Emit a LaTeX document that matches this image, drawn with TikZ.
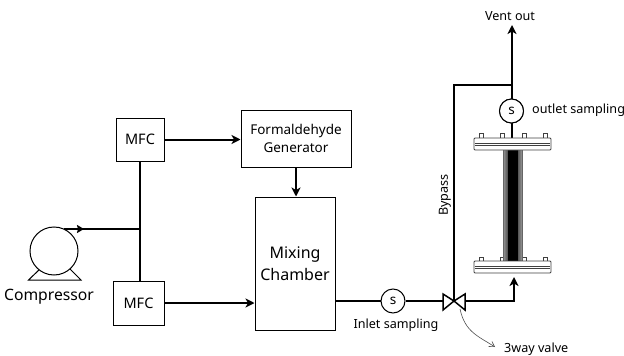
\documentclass[tikz,border=0pt]{standalone}
\usepackage{fontspec}
\setmainfont{Noto Sans}
\usetikzlibrary{arrows.meta,shapes.misc,calc}
\tikzset{
  box/.style={draw=black,line width=1pt,fill=white,inner sep=0pt,align=center,font=\fontsize{13.5}{18}\selectfont},
  sens/.style={circle,draw=black,line width=1pt,fill=white,minimum size=24pt,inner sep=0pt,font=\fontsize{13.5}{14}\selectfont},
  lab/.style={inner sep=0pt,font=\fontsize{12.6}{14}\selectfont},
  flow/.style={line width=2pt,draw=black,line join=miter},
  flowa/.style={flow,-{Stealth[length=9pt,width=9pt,inset=2.5pt]}},
  flange/.style={draw=black!75,line width=.8pt,fill=white,rounded corners=1pt},
  bolt/.style={draw=black!75,line width=.7pt,fill=white}
}
\begin{document}
\begin{tikzpicture}[x=1pt,y=-1pt]
\useasboundingbox (0,0) rectangle (624,356);
% boxes
\node[box,minimum width=48pt,minimum height=43pt,font=\fontsize{14.5}{18}\selectfont] (mfca) at (140,139.5) {MFC};
\node[box,minimum width=51pt,minimum height=44pt,font=\fontsize{14.5}{18}\selectfont] (mfcb) at (138.5,303) {MFC};
\node[box,minimum width=110pt,minimum height=57pt] (gen) at (296,138.5) {Formaldehyde\\Generator};
\node[box,minimum width=80pt,minimum height=133pt,font=\fontsize{16}{22}\selectfont] (mix) at (295,263.5) {Mixing\\Chamber};
\node[sens] (sin) at (393,301) {s};
\node[sens] (sout) at (511.5,111) {s};
% compressor
\coordinate (pumpc) at (54,251);
\draw[line width=1pt,fill=white] (40,269) -- (28.5,280) -- (81,280) -- (70,269);
\node[circle,draw=black,line width=1pt,fill=white,minimum size=48pt,inner sep=0pt] (pump) at (pumpc) {};
\node[lab,font=\fontsize{15.7}{18}\selectfont,anchor=center] (comp) at (49,296.5) {Compressor};
% junction and free-end coordinates
\coordinate (junc) at (140,229);
\coordinate (ptop) at (64,229);
\coordinate (ptip) at (84,229);
\coordinate (valve) at (454,301);
\coordinate (bypc) at (454,85);
\coordinate (main) at (512,85);
\coordinate (vent) at (512,25);
\coordinate (fbot) at (514,277);
\coordinate (turn) at (514,301);
\coordinate (ftop) at (512,138);
% connectors
\draw[flow] (mfca.south) -- (mfcb.north -| mfca.south);
\draw[flow] (ptop) -- (junc);
\draw[line width=2.8pt,-{Stealth[length=7pt,width=8pt,inset=1pt]}] (ptop) -- (ptip);
\draw[flowa] (mfca.east) -- (gen.west |- mfca.east);
\draw[flowa] (gen.south) -- (mix.north -| gen.south);
\draw[flowa] (mfcb.east) -- (mix.west |- mfcb.east);
\draw[flow] (mix.east |- sin.west) -- (sin.west);
\draw[flow] (sin.east) -- (valve);
\draw[flow] (valve) -- (bypc) -- (main);
\draw[flowa] (valve) -- (turn) -- (fbot);
\draw[flowa] (ftop) -- (vent);
% valve
\draw[line width=1.5pt,line join=miter,fill=white] (valve) -- (443,294) -- (443,310) -- cycle;
\draw[line width=1.5pt,line join=miter,fill=white] (valve) -- (465,294) -- (465,310) -- cycle;
\node[sens] (soutb) at (sout) {s};
% flanges and tube
\foreach \x in {481,502,524,545}{
  \draw[bolt] (\x-2,133) rectangle (\x+2,138);
  \draw[bolt] (\x-2,257) rectangle (\x+2,261.5);
}
\shade[left color=black!40,right color=black!40,middle color=black] (503,150) rectangle (522,261);
\draw[black!60,line width=.6pt] (503,150) -- (503,261) (522,150) -- (522,261);
\fill[black] (507.5,150) rectangle (517.5,261);
\draw[flange] (474,138) rectangle (551,150);
\draw[black!75,line width=.7pt] (475,143) -- (550,143) (475,145) -- (550,145);
\draw[flange] (474,261) rectangle (551,273);
\draw[black!75,line width=.7pt] (475,266) -- (550,266) (475,268) -- (550,268);
% labels
\node[lab] (lvent) at (510,16) {Vent out};
\node[lab,anchor=west] (lout) at (532,110.5) {outlet sampling};
\node[lab] (lin) at (396,325) {Inlet sampling};
\node[lab,rotate=90] (lby) at (445,195) {Bypass};
\node[lab,anchor=west] (lvalve) at (504,349) {3way valve};
\coordinate (vtail) at (460,309);
\draw[black!70,line width=.6pt,-{Straight Barb[length=5pt,width=6pt]}] (vtail) .. controls (465,332) and (478,336) .. (495,347);
\end{tikzpicture}
\end{document}
